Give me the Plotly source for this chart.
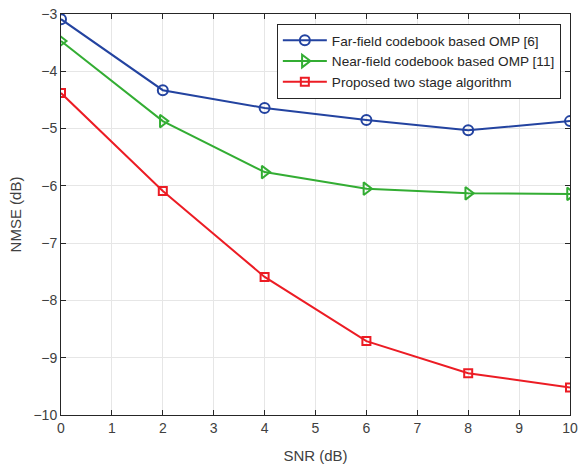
import plotly.graph_objects as go

snr = [0, 2, 4, 6, 8, 10]
far_field = [-3.09, -4.33, -4.64, -4.85, -5.03, -4.87]
near_field = [-3.47, -4.87, -5.76, -6.05, -6.13, -6.14]
proposed = [-4.38, -6.09, -7.59, -8.71, -9.27, -9.52]

names = ["Far-field codebook based OMP [6]",
         "Near-field codebook based OMP [11]",
         "Proposed two stage algorithm"]
colors = ["#2343a0", "#33ad33", "#ec1c24"]
symbols = ["circle-open", "triangle-right-open", "square-open"]
sizes = [10, 11, 8]

fig = go.Figure()
for y, n, c, s, sz in zip([far_field, near_field, proposed], names, colors, symbols, sizes):
    fig.add_trace(go.Scatter(
        x=snr, y=y, name=n, mode="lines+markers",
        line=dict(color=c, width=2),
        marker=dict(symbol=s, size=sz, color=c, line=dict(width=2, color=c)),
    ))

axis_common = dict(
    showgrid=True, gridcolor="#e6e6e6", gridwidth=1,
    showline=True, linecolor="#262626", linewidth=1, mirror="ticks",
    ticks="inside", ticklen=5, tickcolor="#262626",
    tickfont=dict(family="Liberation Sans, Arial", size=14, color="#404040"),
    zeroline=False, automargin=False,
)

fig.update_layout(
    width=581, height=466,
    margin=dict(l=61, r=11, t=14, b=51),
    paper_bgcolor="white", plot_bgcolor="white",
    font=dict(family="Liberation Sans, Arial", size=14, color="#404040"),
    xaxis=dict(range=[0, 10], dtick=1, title=dict(text="SNR (dB)", standoff=15,
               font=dict(size=15, color="#404040")), **axis_common),
    yaxis=dict(range=[-10, -3], dtick=1, title=dict(text="NMSE (dB)", standoff=8,
               font=dict(size=15, color="#404040")), **axis_common),
    legend=dict(x=0.982, y=0.975, xanchor="right", yanchor="top",
                bgcolor="white", bordercolor="#262626", borderwidth=1,
                font=dict(family="Liberation Sans, Arial", size=13.6, color="#262626"),
                tracegroupgap=0, itemwidth=44),
    showlegend=True,
)

fig.write_html(
    "out.html",
    config={"displayModeBar": False},
    post_script=("document.body.style.margin='0';"
                 "document.body.style.overflow='hidden';"
                 "document.documentElement.style.overflow='hidden';"),
)
